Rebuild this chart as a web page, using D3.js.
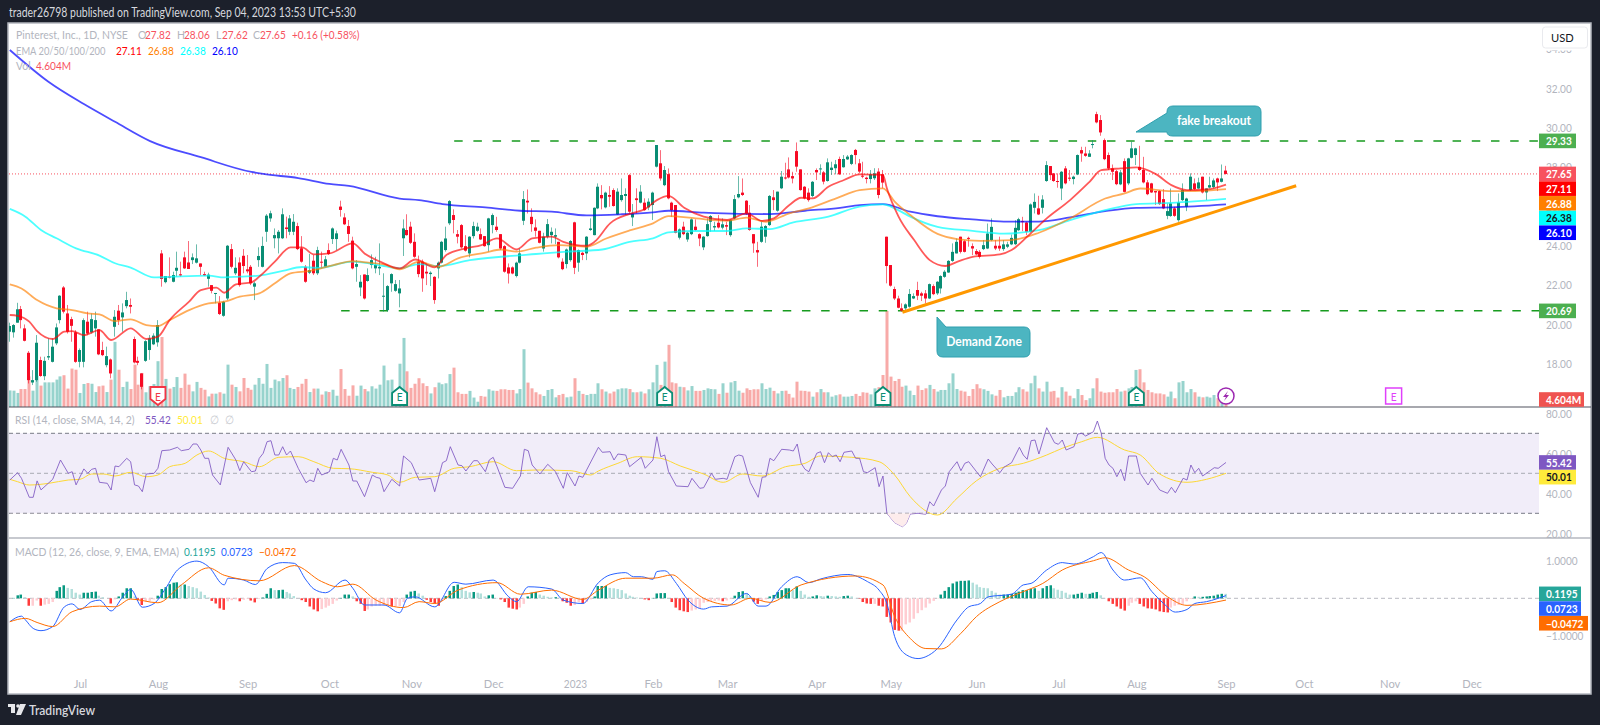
<!DOCTYPE html>
<html>
<head>
<meta charset="utf-8">
<title>Pinterest 1D</title>
<script src="https://cdn.jsdelivr.net/npm/d3@7"></script>
<style>
html, body { margin: 0; padding: 0; background: #1c202b; overflow: hidden; }
svg { display: block; }
text { font-family: "Lato", "Roboto", sans-serif; }
</style>
</head>
<body>
<svg id="chart" width="1600" height="725"></svg>
<script>
// Candles, one row per trading day: open, high, low, close
const ohlc = [
[19.63,20.09,19.12,19.92],[19.60,20.02,19.33,19.97],[20.09,21.10,20.09,20.77],[20.78,20.94,19.80,20.22],[19.80,20.00,19.14,19.17],
[18.56,18.65,17.00,17.17],[17.05,17.68,16.92,17.17],[17.17,19.46,17.09,19.07],[18.19,18.36,17.34,17.38],[17.37,18.36,17.17,18.15],
[18.32,19.29,18.19,18.39],[18.10,19.29,18.07,18.87],[19.04,20.05,18.95,19.85],[20.22,21.49,20.05,21.46],[21.88,21.95,20.56,20.65],
[20.56,20.99,19.54,19.63],[20.27,20.39,19.12,19.93],[19.60,19.71,18.05,18.10],[18.10,18.78,17.82,18.70],[18.10,20.31,17.82,20.22],
[20.14,20.65,19.46,19.54],[19.60,20.56,19.54,20.27],[19.80,20.65,19.38,20.22],[19.75,19.75,18.44,18.48],[18.70,19.12,18.39,18.44],
[17.93,18.87,17.82,18.39],[18.22,18.27,17.26,17.51],[19.88,20.73,19.38,20.39],[20.70,20.99,19.97,20.22],[20.36,21.07,19.63,20.61],
[20.93,21.66,20.82,21.24],[20.99,21.32,20.56,20.90],[19.26,19.38,18.02,18.07],[18.15,18.36,17.93,18.05],[17.51,17.51,16.70,16.83],
[18.15,19.20,18.10,19.15],[18.70,19.46,18.20,19.29],[18.99,19.55,18.95,19.43],[19.09,20.22,18.87,19.97],[23.61,23.78,21.92,22.31],
[22.15,22.46,22.09,22.46],[22.43,23.41,22.34,22.38],[22.17,22.68,22.14,22.51],[22.73,23.70,22.43,22.88],[22.55,23.19,22.43,22.49],
[23.41,23.70,22.82,22.85],[23.15,24.24,22.82,22.82],[23.27,23.61,23.07,23.41],[23.14,24.07,23.10,23.36],[23.10,23.10,22.51,22.93],
[22.56,22.68,22.46,22.49],[22.32,22.63,21.92,22.53],[22.00,22.00,21.58,21.71],[21.57,21.60,21.07,21.60],[21.10,21.44,20.48,20.53],
[20.44,21.20,20.39,21.15],[21.32,24.04,21.24,24.00],[23.83,24.09,22.85,22.93],[22.60,23.41,22.51,22.88],[23.15,23.41,21.92,22.00],
[23.49,23.83,22.60,22.97],[22.80,23.53,22.60,22.70],[22.93,23.02,22.00,22.09],[21.92,22.17,21.24,22.09],[23.27,23.92,22.93,23.48],
[22.93,24.46,22.90,23.99],[24.71,25.61,24.20,25.53],[25.39,25.78,25.22,25.65],[24.38,24.88,23.87,24.54],[24.38,24.80,23.61,24.71],
[24.38,25.90,24.34,25.60],[24.93,25.48,24.38,24.85],[24.71,25.56,24.54,25.39],[24.71,25.61,24.54,25.22],[25.00,25.17,23.78,23.83],
[23.87,24.49,23.14,23.19],[22.93,23.02,22.12,22.17],[22.63,23.58,22.56,22.76],[23.24,23.53,22.51,22.60],[22.60,23.95,22.51,23.78],
[23.19,23.70,22.85,23.16],[22.93,23.48,22.90,23.31],[23.78,24.12,23.53,23.58],[24.34,24.93,24.09,24.88],[24.34,24.77,23.78,24.63],
[25.99,26.29,25.48,25.82],[25.44,25.65,25.05,25.09],[25.00,25.31,24.20,24.60],[24.26,24.46,22.80,22.85],[22.93,23.27,22.17,23.07],
[21.88,22.51,21.44,22.17],[22.54,22.54,21.27,21.32],[22.21,22.85,22.17,22.51],[23.02,23.56,22.85,23.27],[22.85,23.44,22.60,23.02],
[22.85,24.12,22.51,22.93],[21.44,22.60,20.65,21.46],[20.73,22.00,20.65,21.95],[22.09,22.60,21.66,22.56],[21.71,22.26,21.66,22.05],
[21.58,22.26,20.87,21.83],[24.38,25.34,23.48,24.88],[24.80,25.60,24.51,24.54],[24.97,25.22,24.09,24.15],[24.20,24.63,23.39,23.44],
[23.19,23.50,22.40,22.56],[23.19,23.30,21.66,22.34],[22.68,23.10,22.00,22.59],[22.56,22.70,21.95,22.63],[22.42,22.45,21.05,21.24],
[22.85,23.20,22.34,23.14],[23.14,24.25,23.10,24.20],[23.78,24.97,23.70,24.37],[25.14,26.32,25.05,26.27],[25.56,25.85,24.63,25.31],
[24.59,24.80,24.12,24.46],[25.05,25.10,23.86,23.92],[23.98,24.54,23.70,23.75],[23.61,24.49,23.41,24.46],[24.49,25.22,24.37,25.00],
[24.76,25.17,24.71,24.97],[24.59,24.88,24.29,24.32],[24.49,24.49,23.95,23.98],[24.03,25.42,23.70,25.39],[25.05,25.64,24.63,25.56],
[24.97,25.47,24.71,24.80],[24.59,24.59,23.78,23.86],[23.98,24.03,22.63,22.68],[22.90,23.10,22.08,22.59],[22.90,22.95,22.55,22.59],
[22.46,23.19,22.39,23.14],[23.14,23.86,23.10,23.61],[25.27,26.78,25.05,26.37],[26.29,26.86,25.64,26.20],[25.47,25.90,24.71,25.10],
[24.93,25.34,24.46,24.76],[24.76,24.76,24.12,24.15],[23.86,24.66,23.70,24.46],[24.46,25.36,24.37,25.10],[24.54,24.93,24.12,24.71],
[24.46,24.88,24.08,24.54],[24.20,24.20,23.36,23.41],[23.19,23.36,22.76,22.81],[23.07,23.86,22.85,23.81],[23.27,24.29,23.19,24.24],
[25.19,25.22,22.56,22.88],[23.14,23.81,22.68,23.78],[23.64,23.70,23.27,23.53],[23.61,24.49,23.27,24.46],[24.80,25.39,24.76,24.88],
[24.54,25.95,24.53,25.93],[25.90,27.17,25.86,27.00],[26.58,27.08,25.85,26.41],[25.95,26.75,25.90,26.70],[26.58,27.03,25.98,26.49],
[26.83,26.92,25.99,26.02],[25.59,26.92,25.56,26.75],[26.32,27.42,26.24,26.58],[26.53,26.92,25.56,26.63],[27.59,27.64,25.64,25.73],
[25.44,26.12,25.00,25.64],[26.41,26.92,25.64,26.32],[26.19,27.08,26.15,26.75],[26.19,26.41,25.78,25.81],[25.95,26.41,25.81,26.24],
[26.07,26.75,25.31,26.70],[28.02,29.12,27.98,29.12],[28.19,28.86,27.31,27.42],[27.08,28.05,27.03,27.85],[27.64,27.93,26.36,26.41],
[26.19,26.24,25.47,25.81],[26.07,26.07,24.63,24.66],[24.41,24.88,24.32,24.83],[24.97,25.22,24.54,24.59],[24.32,24.71,24.20,24.66],
[24.59,25.39,24.54,25.34],[24.97,25.34,24.76,24.80],[24.59,24.63,23.98,24.37],[23.92,24.49,23.78,24.46],[24.49,25.39,24.46,25.10],
[25.22,25.56,24.71,25.51],[24.93,25.22,24.76,25.00],[25.17,25.56,24.88,24.93],[24.92,25.39,24.83,25.09],[25.05,25.22,24.54,24.97],
[24.54,25.34,24.46,25.31],[25.39,26.58,25.34,26.37],[26.46,27.54,26.41,26.63],[26.70,27.42,26.53,26.58],[26.29,26.32,25.56,25.64],
[25.68,26.07,24.76,24.80],[24.59,24.59,23.64,24.12],[23.78,24.20,22.93,23.66],[24.20,25.22,24.15,24.97],[24.46,25.05,24.15,25.00],
[25.05,26.58,25.00,26.53],[26.46,26.83,25.81,26.32],[25.78,26.75,25.73,26.75],[26.92,27.80,26.88,27.51],[27.47,28.22,27.37,27.42],
[27.88,28.49,27.42,27.47],[27.54,27.76,27.17,27.42],[28.81,29.25,27.76,28.02],[27.88,27.88,26.80,26.83],[27.00,27.03,26.36,26.41],
[26.70,26.92,26.24,26.32],[26.53,27.29,26.46,27.25],[27.85,27.93,27.34,27.73],[27.88,28.14,27.60,27.93],[27.73,27.80,27.12,27.26],
[27.29,28.44,27.26,28.24],[27.85,28.27,27.60,27.97],[27.94,28.36,27.63,28.14],[28.41,28.53,27.60,27.63],[27.99,28.61,27.97,28.41],
[28.39,28.61,28.36,28.53],[28.16,28.65,28.10,28.61],[28.87,28.92,28.14,28.61],[28.19,28.41,27.68,27.77],[27.56,28.27,27.43,27.51],
[27.46,27.51,27.17,27.39],[27.39,27.85,27.17,27.63],[27.43,27.94,27.34,27.68],[27.77,27.94,26.41,26.58],[27.63,27.85,26.92,27.21],
[24.46,24.46,22.09,22.97],[23.02,23.02,21.92,21.97],[21.80,21.92,21.24,21.32],[21.32,21.46,20.82,20.85],[20.82,21.07,20.65,20.70],
[20.82,21.07,20.73,21.02],[20.90,21.80,20.85,21.55],[21.32,21.58,21.29,21.44],[21.75,22.17,21.24,21.46],[21.58,21.66,21.19,21.46],
[21.58,21.75,21.07,21.32],[21.32,22.08,21.29,22.05],[21.95,22.04,21.49,21.54],[21.58,22.20,21.50,22.17],[21.83,22.50,21.57,22.46],
[22.42,22.76,22.37,22.68],[22.64,23.27,22.62,23.23],[23.23,24.12,23.18,23.69],[23.61,24.37,23.61,24.20],[24.46,24.46,23.61,23.69],
[24.23,24.29,23.66,23.69],[24.40,24.46,23.95,24.37],[23.98,24.12,23.52,23.86],[23.73,23.83,23.52,23.56],[23.69,23.78,23.35,23.44],
[23.83,24.29,23.78,24.03],[23.86,25.13,23.83,24.62],[24.29,25.39,24.23,24.96],[24.00,24.29,23.78,23.86],[24.00,24.46,23.74,23.86],
[23.83,24.29,23.74,24.07],[23.95,24.20,23.88,24.07],[24.07,24.57,24.03,24.40],[24.08,25.30,24.03,24.91],[24.79,25.42,24.74,25.35],
[25.25,25.47,24.74,25.22],[25.18,25.22,24.54,24.71],[24.71,26.15,24.68,26.10],[25.93,26.66,25.64,26.23],[25.90,26.54,25.56,25.59],
[25.93,26.57,25.64,26.35],[27.29,28.30,27.25,28.10],[28.05,28.05,27.34,27.59],[27.68,27.68,27.25,27.29],[27.29,27.68,26.95,27.25],
[26.91,27.80,26.32,27.76],[27.93,28.05,27.12,27.17],[27.46,27.85,27.29,27.42],[27.39,27.56,27.12,27.51],[27.62,28.64,27.59,28.61],
[28.86,29.03,28.27,28.69],[28.69,29.03,28.52,28.57],[28.52,28.86,28.52,28.69],[29.15,29.37,28.95,29.17],[30.69,30.81,30.22,30.27],
[30.39,30.64,29.59,29.76],[29.37,29.45,28.35,28.40],[28.61,28.74,27.85,27.93],[27.93,28.13,27.34,27.76],[27.79,27.85,27.08,27.13],
[27.12,27.85,27.08,27.73],[28.30,28.44,26.71,26.74],[27.17,28.47,27.08,28.44],[28.47,29.29,28.44,28.95],[28.61,28.98,28.10,28.95],
[28.01,29.08,27.80,27.85],[27.85,28.52,27.17,27.22],[27.22,27.34,26.57,26.62],[27.17,27.20,26.68,26.71],[26.78,26.78,26.07,26.71],
[26.78,26.83,26.07,26.12],[26.37,26.88,25.86,25.90],[25.52,26.15,25.35,25.76],[25.51,26.91,25.47,26.15],[25.90,25.98,25.47,25.52],
[25.30,26.66,25.22,26.20],[26.32,27.17,26.27,26.83],[25.98,26.44,25.76,26.40],[26.83,27.68,26.78,27.51],[27.17,27.42,26.83,26.88],
[26.91,27.46,26.88,27.22],[27.51,27.51,26.66,26.71],[26.71,26.91,26.32,26.91],[26.96,27.51,26.91,27.08],[26.98,27.42,26.91,27.32],
[27.42,27.46,26.78,27.22],[27.25,28.13,27.22,27.42],[27.82,28.06,27.62,27.65]
];

// Volume in millions, one per trading day
const volume = [
7.2,7.1,6.1,7.8,7.8,13.3,7.1,13.6,9.3,10.7,10.7,10.7,11.9,13.3,13.8,8.0,16.7,16.2,6.1,10.0,
10.4,10.1,6.5,9.0,9.3,6.5,11.9,28.3,16.2,8.7,11.0,7.8,18.4,9.7,14.8,6.4,9.0,10.0,19.9,30.4,
12.2,8.0,8.7,13.0,8.3,14.5,9.7,6.8,10.9,8.3,7.5,4.6,5.8,5.8,6.4,5.8,18.4,9.7,8.7,6.8,
12.6,8.3,7.5,9.7,12.6,10.1,18.7,8.3,11.9,11.2,12.6,13.8,8.3,7.8,8.7,10.1,12.2,6.5,8.0,8.0,
5.4,6.8,6.5,7.5,4.9,16.5,7.8,4.9,9.4,4.9,9.3,7.8,6.8,9.0,8.0,9.7,18.0,11.6,11.9,7.5,
18.8,30.0,15.5,8.3,10.1,
12.5,10.3,9.1,5.9,8.6,10.6,9.9,10.3,14.3,17.1,6.4,5.7,5.7,7.0,4.1,2.3,4.8,4.5,7.7,7.1,
7.0,7.7,7.7,7.4,7.4,5.9,7.8,25.1,10.6,8.1,6.4,5.5,4.8,7.4,7.8,4.2,5.2,5.7,4.2,4.5,
12.5,7.0,5.7,5.2,5.7,5.7,10.3,7.7,6.7,5.9,6.7,7.7,8.1,8.1,
7.8,6.4,6.4,6.7,5.9,7.7,10.7,18.3,9.6,19.7,27.0,10.7,10.3,8.8,8.6,7.2,9.1,7.0,7.0,7.4,
8.1,7.8,7.7,5.7,10.3,6.2,10.7,11.3,7.1,6.2,8.1,7.4,7.7,7.7,10.3,7.8,8.4,7.0,5.9,7.0,
7.1,5.7,4.1,11.0,7.1,7.0,6.7,4.5,6.4,7.8,6.4,6.4,4.5,5.1,5.5,4.5,4.5,4.8,5.7,4.8,
6.4,6.2,5.5,8.1,8.6,13.9,41.7,13.2,11.3,12.2,8.8,9.3,7.1,5.2,9.3,7.4,8.1,9.6,7.8,6.7,
7.4,7.4,10.3,14.6,7.8,7.1,6.7,4.8,7.8,9.9,8.1,7.7,7.0,5.5,4.9,7.4,4.2,4.8,4.8,6.4,
8.6,7.7,6.7,10.3,13.6,8.1,6.7,11.0,6.7,7.0,4.1,8.6,6.7,4.9,3.8,7.8,5.2,3.0,3.8,8.1,
12.5,6.7,6.2,6.4,6.4,7.8,6.7,7.1,8.1,8.7,16.1,16.4,10.7,7.4,6.4,5.9,5.9,5.5,4.5,6.7,
3.8,10.7,11.3,6.4,7.8,6.4,4.5,4.2,4.5,4.1,5.2,3.8,4.5,4.604
];

// Moving averages, read at [bar, price]
const ema20 = [[0,20.48],[2,20.44],[5,20.14],[7,19.66],[11,19.26],[14,19.63],[16,19.66],[19,19.46],[23,19.71],[26,19.21],[31,19.8],[35,19.26],[38,19.38],[41,20.22],[46,21.16],[49,21.75],[53,21.87],[55,21.61],[58,22.04],[62,22.14],[64,22.43],[68,23.19],[72,23.92],[75,23.92],[78,23.56],[82,23.61],[88,24.12],[91,23.61],[95,23.19],[100,22.85],[104,23.3],[109,22.9],[112,23.53],[117,23.87],[121,24.03],[125,24.37],[130,23.81],[134,24.37],[139,24.46],[142,24.2],[148,24.0],[150,24.2],[154,25.14],[159,25.62],[163,25.87],[166,26.32],[169,26.53],[173,25.93],[178,25.48],[184,25.31],[189,25.65],[193,25.26],[196,25.39],[200,26.07],[203,26.44],[206,26.41],[210,27.0],[214,27.34],[218,27.63],[224,27.6],[225,26.92],[228,25.48],[232,24.29],[236,23.27],[240,22.97],[243,23.18],[247,23.44],[254,23.56],[257,23.78],[261,24.46],[266,25.39],[272,26.32],[277,27.25],[280,27.84],[285,27.93],[289,27.98],[294,27.64],[298,27.08],[302,26.83],[307,26.86],[312,27.11]];
const ema50 = [[0,22.04],[3,21.83],[7,21.24],[12,20.82],[16,20.73],[20,20.56],[23,20.51],[27,20.17],[31,20.26],[35,19.97],[38,19.92],[41,20.22],[46,20.73],[51,21.07],[55,21.16],[59,21.41],[64,21.58],[68,22.09],[72,22.6],[77,22.72],[83,23.02],[88,23.22],[92,23.14],[96,23.05],[100,22.8],[105,23.19],[110,22.93],[115,23.36],[122,23.65],[126,23.81],[130,23.7],[135,23.9],[141,24.03],[148,23.95],[153,24.37],[159,24.78],[165,25.14],[169,25.51],[176,25.39],[184,25.27],[189,25.43],[194,25.22],[200,25.65],[205,25.9],[212,26.41],[218,26.83],[224,26.92],[227,26.24],[231,25.56],[238,24.6],[243,24.34],[249,24.25],[257,24.29],[264,24.66],[272,25.39],[281,26.4],[286,26.66],[290,26.91],[298,26.78],[304,26.78],[312,26.88]];
const ema100 = [[0,25.87],[4,25.48],[8,24.8],[12,24.38],[17,23.87],[23,23.5],[27,23.11],[31,22.89],[37,22.39],[42,22.43],[51,22.48],[55,22.39],[59,22.43],[64,22.48],[70,22.72],[75,22.92],[79,22.87],[88,23.19],[96,22.97],[100,22.85],[105,23.07],[110,22.97],[118,23.27],[126,23.44],[135,23.58],[143,23.7],[152,23.81],[159,24.2],[165,24.38],[169,24.68],[176,24.75],[184,24.75],[189,24.88],[195,24.85],[201,25.19],[210,25.48],[218,25.99],[224,26.1],[227,25.9],[231,25.48],[238,24.96],[247,24.76],[255,24.62],[264,24.79],[272,25.3],[281,25.81],[289,26.12],[298,26.18],[312,26.38]];
const ema200 = [[0,33.95],[10,32.32],[19,31.2],[27,30.3],[36,29.32],[49,28.5],[62,27.75],[65,27.65],[74,27.44],[82,27.14],[87,27.04],[100,26.4],[105,26.32],[111,26.12],[122,25.95],[131,25.78],[139,25.73],[148,25.54],[157,25.6],[165,25.7],[169,25.78],[178,25.68],[187,25.62],[195,25.61],[204,25.78],[213,25.93],[218,26.07],[224,26.12],[231,25.73],[238,25.5],[247,25.34],[255,25.23],[264,25.23],[272,25.44],[281,25.76],[289,25.93],[298,25.95],[312,26.10]];

// RSI and its moving average, read at [bar, value]
const rsi = [[0,46.65],[2,50.3],[3,47.5],[5,38],[6,38],[7,46.2],[8,41.7],[11,47],[13,56.65],[15,50],[16,50.8],[17,44.2],[19,52.2],[20,50],[21,52],[22,52.5],[23,45.5],[25,45],[26,41.65],[27,53.65],[28,53.3],[30,57.5],[31,55.8],[32,44.2],[33,43.65],[34,40.8],[35,49.65],[37,50],[38,52.5],[39,61.3],[41,61.65],[43,63],[44,61.3],[46,62],[47,64.65],[48,64.65],[49,61.65],[50,57.5],[51,57.5],[52,49.15],[54,44.2],[56,63],[58,56.65],[59,51.3],[60,55.8],[62,50.8],[63,51.15],[64,57.5],[65,60],[66,65.8],[67,66.3],[68,59.15],[69,59.15],[70,63.3],[71,59.15],[72,61.15],[74,52.5],[76,45.3],[77,46.65],[78,45.8],[79,52.5],[80,49.15],[82,50.8],[83,57.5],[84,56.65],[85,62],[87,54.15],[88,46.15],[89,46.15],[91,38.3],[93,49.15],[94,48],[95,47.5],[96,40.8],[98,47],[100,43.65],[101,58.65],[103,55.3],[105,46.65],[108,47.5],[109,40.8],[111,55.3],[112,56.3],[113,63.3],[115,54.15],[116,53.8],[117,51.15],[119,56.3],[120,56.3],[122,50.8],[123,56.65],[124,58],[125,53.3],[127,43],[129,42.5],[131,48.65],[132,62],[133,61.3],[134,54.15],[136,49.65],[138,54.5],[140,50.8],[142,42.5],[143,50.3],[145,43.65],[146,48.65],[147,48],[151,63],[152,60.5],[154,60.8],[155,56.65],[156,59.65],[158,59.15],[159,53.3],[162,58],[163,52.5],[165,56.65],[166,68.3],[167,58.3],[168,59.15],[169,50.8],[171,43.65],[174,43.3],[175,47.5],[177,42.5],[178,42.8],[180,50],[181,47],[183,47.5],[184,47],[186,58.3],[187,59.15],[188,58.65],[190,45.3],[192,38],[193,48],[194,48.3],[195,57.5],[196,56.3],[198,62],[200,61.65],[201,61.15],[202,64.65],[203,55],[204,52],[205,50.8],[207,60],[208,60.8],[209,55.3],[210,60.3],[211,58.3],[212,59.15],[213,55.8],[214,60.5],[216,61.15],[217,57.5],[218,57.5],[219,50.8],[220,50.3],[222,52.8],[223,43.3],[224,48.65],[225,30],[227,25.3],[229,23.3],[230,25],[231,29.65],[233,30],[235,29.5],[236,35.8],[237,33.65],[239,41.65],[240,43.65],[241,50.8],[243,55.8],[244,51.3],[245,55],[246,55.8],[248,50.8],[249,48.3],[251,57.15],[252,54.65],[254,50.3],[255,53],[257,55.3],[259,63],[260,59.15],[261,57],[262,66.3],[263,66.65],[264,59.65],[266,72.8],[268,65.3],[269,64.5],[270,66.65],[271,61.65],[273,63.3],[274,69.65],[275,70],[276,68.65],[278,70.8],[279,76.15],[280,70],[281,57.5],[282,54.15],[283,52.5],[284,48.3],[285,52],[286,46.3],[287,58.65],[289,58.65],[290,50],[292,44.15],[293,47.5],[295,41.65],[297,40],[298,43],[299,40.3],[301,47.5],[302,46.65],[303,54.15],[304,50.3],[305,52.5],[306,48.65],[309,52.8],[310,52.5],[312,55.42]];
const rsiMa = [[0,46.98],[2,45.8],[5,44.15],[10,44.98],[15,46.65],[18,46.98],[21,49.65],[24,49.65],[27,48.65],[31,50.5],[35,48.3],[38,49.15],[41,53.3],[45,55],[48,59.15],[51,61.15],[55,57.5],[60,55.8],[64,53.3],[69,58],[74,58.3],[78,55.8],[83,52.5],[87,52.3],[93,50.5],[97,49.15],[100,45.5],[104,48],[109,48.3],[114,52.5],[118,53.3],[124,55.8],[130,51.3],[135,51.65],[144,51.3],[149,49.15],[151,51.15],[156,55],[161,58.3],[167,57.5],[172,53.65],[178,49.65],[183,45.5],[188,49.65],[193,48.65],[199,53.3],[204,55],[208,58.65],[216,58],[223,55.8],[227,49.15],[231,38.3],[238,29.15],[243,37.5],[248,46.3],[254,52.5],[260,55],[266,59.15],[270,62.5],[275,65.8],[279,68],[286,61.65],[290,59.15],[295,49.65],[302,45.5],[307,47],[312,50.01]];

// MACD line and signal, read at [bar, value]
const macdLine = [[0,-0.63],[3,-0.48],[4,-0.58],[6,-0.81],[8,-0.87],[11,-0.76],[14,-0.23],[16,-0.15],[18,-0.30],[21,-0.09],[23,-0.05],[26,-0.34],[29,0.04],[31,0.24],[34,-0.24],[37,-0.14],[40,0.27],[43,0.76],[48,1.0],[51,0.85],[55,0.36],[56,0.54],[60,0.49],[63,0.37],[66,0.80],[70,0.96],[73,0.94],[76,0.49],[78,0.25],[81,0.15],[86,0.49],[88,0.27],[91,-0.18],[96,-0.18],[100,-0.39],[102,0.0],[104,0.04],[109,-0.23],[114,0.43],[117,0.38],[124,0.49],[128,0.04],[130,-0.09],[133,0.31],[139,0.25],[142,-0.05],[147,-0.14],[151,0.42],[154,0.63],[158,0.69],[160,0.58],[162,0.58],[165,0.51],[166,0.72],[168,0.74],[171,0.40],[174,-0.05],[178,-0.29],[180,-0.23],[184,-0.21],[189,0.13],[192,-0.21],[194,-0.21],[198,0.31],[202,0.58],[205,0.42],[208,0.52],[215,0.64],[220,0.45],[223,0.22],[225,-0.14],[227,-1.03],[230,-1.52],[233,-1.62],[235,-1.57],[238,-1.35],[243,-0.58],[246,-0.23],[249,-0.14],[251,0.04],[257,0.11],[260,0.36],[262,0.40],[266,0.76],[270,0.96],[273,0.92],[278,1.12],[280,1.23],[283,0.76],[286,0.49],[290,0.55],[293,0.18],[296,-0.14],[299,-0.37],[302,-0.30],[304,-0.14],[307,-0.09],[312,0.0723]];
const macdSignal = [[0,-0.63],[4,-0.54],[7,-0.65],[11,-0.76],[16,-0.36],[23,-0.21],[27,-0.23],[31,-0.02],[38,-0.12],[44,0.36],[51,0.82],[55,0.62],[64,0.47],[73,0.88],[80,0.45],[84,0.31],[88,0.38],[94,-0.05],[101,-0.25],[105,-0.09],[109,-0.14],[115,0.22],[125,0.42],[131,0.11],[139,0.22],[147,-0.03],[151,0.22],[158,0.54],[165,0.54],[170,0.63],[173,0.40],[178,0.0],[185,-0.18],[190,0.0],[195,-0.11],[203,0.36],[217,0.60],[224,0.36],[227,-0.49],[231,-1.08],[235,-1.35],[239,-1.36],[244,-0.94],[248,-0.49],[254,-0.09],[260,0.18],[265,0.40],[270,0.76],[278,1.01],[281,1.09],[287,0.76],[291,0.58],[297,0.04],[302,-0.19],[312,-0.0472]];
const macdHist = [
0,0.01,0.08,0.1,0.03,-0.2,-0.2,-0.06,-0.2,-0.17,-0.15,-0.1,0.2,0.3,0.35,0.28,0.25,0.15,0.1,0.15,
0.15,0.17,0.18,0.07,0.03,0,-0.14,-0.03,0.05,0.15,0.27,0.27,0.05,-0.05,-0.18,-0.08,-0.07,-0.03,0.07,0.25,
0.3,0.38,0.42,0.43,0.37,0.37,0.33,0.3,0.27,0.18,0.09,0.02,-0.07,-0.14,-0.27,-0.31,-0.08,-0.05,-0.03,-0.08,
-0.04,-0.02,-0.06,-0.11,-0.02,0.02,0.12,0.27,0.22,0.22,0.23,0.17,0.13,0.06,0,-0.05,-0.1,-0.22,-0.3,-0.35,
-0.29,-0.25,-0.2,-0.15,-0.06,0.01,0.1,0.1,0.05,-0.08,-0.15,-0.34,-0.3,-0.22,-0.2,-0.2,-0.2,-0.2,-0.22,-0.22,
-0.21,-0.1,0.1,0.18,0.2,0.13,0.07,-0.04,-0.1,-0.14,-0.2,-0.05,0.06,0.2,0.33,0.37,0.3,0.2,0.16,0.17,
0.15,0.13,0.05,0.08,0.1,0.01,-0.03,-0.1,-0.25,-0.28,-0.3,-0.25,-0.15,0.05,0.15,0.17,0.1,0.07,0.04,0.02,
0.03,0.01,-0.08,-0.12,-0.2,-0.18,-0.1,-0.14,-0.1,-0.03,0.05,0.33,0.33,0.33,0.28,0.27,0.25,0.22,0.13,0.07,
0.04,0.02,0.01,-0.03,-0.05,0.01,0.13,0.14,0.14,0.01,-0.1,-0.25,-0.32,-0.35,-0.37,-0.33,-0.3,-0.28,-0.12,-0.1,
-0.08,-0.07,-0.06,-0.08,-0.06,-0.02,0.07,0.17,0.19,0.13,0.05,-0.09,-0.15,-0.07,-0.03,0.05,0.09,0.17,0.22,0.27,
0.27,0.22,0.32,0.2,0.1,0.04,0.05,0.08,0.06,0.05,0.07,0.06,0.05,0.04,0.06,0.07,0.05,0.01,-0.01,-0.1,
-0.14,-0.15,-0.15,-0.2,-0.22,-0.5,-0.65,-0.85,-0.87,-0.87,-0.7,-0.65,-0.55,-0.4,-0.32,-0.25,-0.14,-0.07,-0.01,0.1,
0.2,0.3,0.4,0.45,0.47,0.47,0.48,0.42,0.37,0.3,0.28,0.27,0.2,0.15,0.1,0.1,0.1,0.12,0.15,0.18,
0.22,0.22,0.25,0.27,0.2,0.27,0.33,0.35,0.27,0.23,0.2,0.15,0.1,0.1,0.12,0.15,0.12,0.12,0.15,0.17,
0.08,0.01,-0.08,-0.15,-0.22,-0.28,-0.33,-0.2,-0.12,-0.08,-0.15,-0.22,-0.27,-0.28,-0.3,-0.35,-0.37,-0.38,-0.25,-0.2,
-0.18,-0.15,-0.08,-0.02,0.05,0.04,0.04,0.05,0.06,0.07,0.1,0.12,0.1195
];

// Axis ticks
const monthLabels = ['Jul','Aug','Sep','Oct','Nov','Dec','2023','Feb','Mar','Apr','May','Jun','Jul','Aug','Sep','Oct','Nov','Dec'];
const monthBars = [18,38,61,82,103,124,145,165,184,207,226,248,269,289,312,332,354,375];
const priceTicks = [18,20,22,24,26,28,30,32,34];
const rsiTicks = [20,40,60,80];
const macdTicks = [-1,1];

// Drawn levels and earnings flags
const supportLevel = 20.69;
const resistLevel = 29.33;
const lastClose = 27.65;
const pastEarnings = [38,100,168,224,289];
const nextEarnings = 355;
const trendBars = [229,330];
const trendPrices = [20.62,27.05];

// Axis price tags, each stack is pushed down so tags do not overlap
const mainTags = [
    { v: 27.65, t: '27.65', fill: '#f7525f', color: '#fff' },
    { v: 27.11, t: '27.11', fill: '#ff0000', color: '#fff' },
    { v: 26.88, t: '26.88', fill: '#ff7f00', color: '#fff' },
    { v: 26.38, t: '26.38', fill: '#00ffff', color: '#131722' },
    { v: 26.10, t: '26.10', fill: '#0000ff', color: '#fff' }
];
const rsiTags = [
    { v: 55.42, t: '55.42', fill: '#7e57c2', color: '#fff' },
    { v: 50.01, t: '50.01', fill: '#ffeb3b', color: '#131722' }
];
const macdTags = [
    { v: 0.1195, t: '0.1195', fill: '#26a69a', color: '#fff', w: 42 },
    { v: 0.0723, t: '0.0723', fill: '#2962ff', color: '#fff', w: 42 },
    { v: -0.0472, t: '\u22120.0472', fill: '#ff6d00', color: '#fff', w: 49 }
];

// Layout
const plotLeft = 9, plotRight = 1539, frameRight = 1591;
const mainTop = 24, mainBottom = 407, rsiBottom = 538, frameBottom = 694;
const greyText = '#b2b5be';
const upColor = '#098d74', downColor = '#f70a24';

const svg = d3.select('#chart');

// White chart area
svg.append('rect').attr('x', plotLeft - 1).attr('y', mainTop - 1)
    .attr('width', frameRight - plotLeft + 1).attr('height', frameBottom - mainTop + 1)
    .attr('fill', '#fff').attr('stroke', '#b4b7bf').attr('stroke-width', 1.5);

// Scales
const x = d3.scaleLinear().domain([0, 312]).range([9.8, 1226]);
const y = d3.scaleLinear().domain([20, 30]).range([324.45, 127.7]);
const yVol = d3.scaleLinear().domain([0, 41.7]).range([mainBottom, 311]);
const yRsi = d3.scaleLinear().domain([30, 70]).range([513.3, 433.3]);
const yMacd = d3.scaleLinear().domain([-1, 1]).range([635.5, 561.1]);

const defs = svg.append('defs');
function addClip(id, top, bottom) {
    defs.append('clipPath').attr('id', id).append('rect')
        .attr('x', plotLeft).attr('y', top).attr('width', plotRight - plotLeft).attr('height', bottom - top);
}
addClip('clip-main', mainTop, mainBottom);
addClip('clip-rsi', mainBottom + 1, rsiBottom);
addClip('clip-macd', rsiBottom + 1, frameBottom);
addClip('clip-low', yRsi(30), rsiBottom);

const main = svg.append('g').attr('clip-path', 'url(#clip-main)');

// Volume bars
main.append('g').selectAll('rect').data(volume).join('rect')
    .attr('x', (d, i) => Math.round(x(i)) - 1.5)
    .attr('width', 3)
    .attr('y', d => yVol(d))
    .attr('height', d => mainBottom - yVol(d))
    .attr('fill', (d, i) => ohlc[i][3] >= ohlc[i][0] ? '#97d3cd' : '#f8aaa8');

// Horizontal levels
function levelLine(level, fromBar) {
    main.append('line')
        .attr('x1', x(fromBar)).attr('x2', plotRight)
        .attr('y1', y(level)).attr('y2', y(level))
        .attr('stroke', '#179b1f').attr('stroke-width', 1.5)
        .attr('stroke-dasharray', '8.5,10.7');
}
levelLine(resistLevel, 114);
levelLine(supportLevel, 85);

main.append('line')
    .attr('x1', plotLeft).attr('x2', plotRight)
    .attr('y1', y(lastClose)).attr('y2', y(lastClose))
    .attr('stroke', '#f7525f').attr('stroke-dasharray', '1,2');

// Candles
const candle = main.append('g').selectAll('g').data(ohlc).join('g');
candle.append('line')
    .attr('x1', (d, i) => Math.round(x(i)) - 0.5)
    .attr('x2', (d, i) => Math.round(x(i)) - 0.5)
    .attr('y1', d => y(d[1]))
    .attr('y2', d => y(d[2]))
    .attr('stroke', d => d[3] >= d[0] ? upColor : downColor)
    .attr('stroke-opacity', 0.6);
candle.append('rect')
    .attr('x', (d, i) => Math.round(x(i)) - 2)
    .attr('width', 3)
    .attr('y', d => y(Math.max(d[0], d[3])))
    .attr('height', d => Math.max(1, Math.abs(y(d[0]) - y(d[3]))))
    .attr('fill', d => d[3] >= d[0] ? upColor : downColor);

// EMA lines
const smooth = d3.line().x(d => x(d[0])).y(d => y(d[1])).curve(d3.curveMonotoneX);
[[ema200, '#0000ff', 0.7], [ema100, '#00ffff', 0.7], [ema50, '#ff7f00', 0.65], [ema20, '#ff0000', 0.65]].forEach(s => {
    main.append('path').attr('d', smooth(s[0]))
        .attr('fill', 'none').attr('stroke', s[1]).attr('stroke-opacity', s[2]).attr('stroke-width', 1.8);
});

// Trend line
main.append('line')
    .attr('x1', x(trendBars[0])).attr('y1', y(trendPrices[0]))
    .attr('x2', x(trendBars[1])).attr('y2', y(trendPrices[1]))
    .attr('stroke', '#ff9800').attr('stroke-width', 3);

// Earnings flags
function earningsFlag(bar, shape, stroke) {
    const g = svg.append('g').attr('transform', `translate(${x(bar)},396)`);
    g.append('path').attr('d', shape)
        .attr('fill', '#fff').attr('stroke', stroke).attr('stroke-width', 1.8);
    g.append('text').attr('text-anchor', 'middle').attr('y', 4.5)
        .attr('font-size', 11).attr('fill', stroke).text('E');
}
pastEarnings.forEach(b => {
    if (b === 38) earningsFlag(b, 'M-7.5,-9 H7.5 V3 L0,9 L-7.5,3 Z', '#f23645');
    else earningsFlag(b, 'M-7.5,-3 L0,-9 L7.5,-3 V9 H-7.5 Z', '#098d74');
});

const futureFlag = svg.append('g').attr('transform', `translate(${x(nextEarnings)},396)`);
futureFlag.append('rect').attr('x', -8).attr('y', -8).attr('width', 16).attr('height', 16)
    .attr('fill', '#fff').attr('stroke', '#e040fb').attr('stroke-width', 1.5);
futureFlag.append('text').attr('text-anchor', 'middle').attr('y', 4.5)
    .attr('font-size', 11).attr('fill', '#e040fb').text('E');

// Dividends/split bolt on the last bar
const bolt = svg.append('g').attr('transform', `translate(${x(312)},396)`);
bolt.append('circle').attr('r', 8).attr('fill', '#fff').attr('stroke', '#9c27b0').attr('stroke-width', 1.5);
bolt.append('path').attr('d', 'M2,-5 L-3,1 L0,1 L-2,5 L3,-1 L0,-1 Z').attr('fill', '#9c27b0');

// Callouts
function callout(path, textX, textY, label) {
    svg.append('path').attr('d', path).attr('fill', '#4cb5c1').attr('stroke', '#2f9fae');
    svg.append('text').attr('x', textX).attr('y', textY).attr('text-anchor', 'middle')
        .attr('fill', '#fff').attr('font-size', 13).attr('font-weight', 700).text(label);
}
callout('M1136,132 L1167,113 L1167,112 Q1167,106 1173,106 L1255,106 Q1261,106 1261,112 L1261,130 Q1261,136 1255,136 L1173,136 Q1167,136 1167,132 Z', 1214, 125.5, 'fake breakout');
callout('M937,317 L946,327 L1024,327 Q1030,327 1030,333 L1030,351 Q1030,357 1024,357 L943,357 Q937,357 937,351 Z', 984, 346.5, 'Demand Zone');

// RSI pane
svg.append('rect').attr('x', plotLeft).attr('width', plotRight - plotLeft)
    .attr('y', yRsi(70)).attr('height', yRsi(30) - yRsi(70)).attr('fill', '#f1edf9');
[70, 50, 30].forEach(v => {
    svg.append('line').attr('x1', plotLeft).attr('x2', plotRight)
        .attr('y1', yRsi(v)).attr('y2', yRsi(v))
        .attr('stroke', v === 50 ? '#a9abb3' : '#787b86')
        .attr('stroke-dasharray', '4,3');
});
const rsiPane = svg.append('g').attr('clip-path', 'url(#clip-rsi)');
const rsiArea = d3.area().x(d => x(d[0])).y0(d => yRsi(30)).y1(d => yRsi(d[1]));
svg.append('path').attr('d', rsiArea(rsi)).attr('fill', '#fdecec').attr('clip-path', 'url(#clip-low)');
const rsiPath = d3.line().x(d => x(d[0])).y(d => yRsi(d[1]));
const rsiSmooth = d3.line().x(d => x(d[0])).y(d => yRsi(d[1])).curve(d3.curveMonotoneX);
rsiPane.append('path').attr('d', rsiSmooth(rsiMa)).attr('fill', 'none').attr('stroke', '#fdd835').attr('stroke-width', 1);
rsiPane.append('path').attr('d', rsiPath(rsi)).attr('fill', 'none').attr('stroke', '#7e57c2').attr('stroke-width', 1).attr('stroke-opacity', 0.85);

// MACD pane
const macdPane = svg.append('g').attr('clip-path', 'url(#clip-macd)');
macdPane.append('line').attr('x1', plotLeft).attr('x2', plotRight)
    .attr('y1', yMacd(0)).attr('y2', yMacd(0))
    .attr('stroke', '#b8bac1').attr('stroke-dasharray', '4,3');
macdPane.append('g').selectAll('rect').data(macdHist).join('rect')
    .attr('x', (d, i) => Math.round(x(i)) - 1.5)
    .attr('width', 2.5)
    .attr('y', d => Math.min(yMacd(d), yMacd(0)))
    .attr('height', d => Math.abs(yMacd(d) - yMacd(0)))
    .attr('fill', (d, i) => {
        const rising = i === 0 || d >= macdHist[i - 1];
        if (d >= 0) return rising ? '#089981' : '#b2dfdb';
        return rising ? '#ffcdd2' : '#ff3b3b';
    });
const macdPath = d3.line().x(d => x(d[0])).y(d => yMacd(d[1])).curve(d3.curveMonotoneX);
macdPane.append('path').attr('d', macdPath(macdLine)).attr('fill', 'none').attr('stroke', '#2962ff').attr('stroke-width', 1);
macdPane.append('path').attr('d', macdPath(macdSignal)).attr('fill', 'none').attr('stroke', '#ff6d00').attr('stroke-width', 1);

// Pane separators
svg.append('line').attr('x1', plotLeft).attr('x2', frameRight).attr('y1', mainBottom).attr('y2', mainBottom)
    .attr('stroke', '#50535e').attr('stroke-width', 1.2);
svg.append('line').attr('x1', plotLeft).attr('x2', frameRight).attr('y1', rsiBottom).attr('y2', rsiBottom)
    .attr('stroke', '#b4b7bf').attr('stroke-width', 1.5);

// Axes
function cleanAxis(g) {
    g.select('.domain').remove();
    g.selectAll('.tick line').remove();
    g.selectAll('.tick text').attr('fill', greyText).attr('font-size', 12)
        .style('font-family', '"Lato", "Roboto", sans-serif');
}
function rightAxis(scale, ticks, fmt) {
    const g = svg.append('g').attr('transform', 'translate(1544,0)')
        .call(d3.axisRight(scale).tickValues(ticks).tickSize(0).tickFormat(fmt));
    cleanAxis(g);
    g.selectAll('.tick text').attr('x', 2);
}
rightAxis(y, priceTicks, d3.format('.2f'));
rightAxis(yRsi, rsiTicks, d3.format('.2f'));
rightAxis(yMacd, macdTicks, d => d3.format('.4f')(d).replace('-', '\u2212'));

const monthAxis = svg.append('g').attr('transform', 'translate(0,676)')
    .call(d3.axisBottom(x).tickValues(monthBars).tickSize(0)
        .tickFormat((d, i) => monthLabels[i]));
cleanAxis(monthAxis);

// USD button, it hides the top tick behind it
svg.append('rect').attr('x', 1540).attr('y', 40).attr('width', 50).attr('height', 10.5).attr('fill', '#fff');
svg.append('rect').attr('x', 1542.5).attr('y', 27).attr('width', 45).attr('height', 21).attr('rx', 3)
    .attr('fill', '#fff').attr('stroke', '#e9eaee');
svg.append('text').attr('x', 1551).attr('y', 42).attr('font-size', 12).attr('fill', '#131722').text('USD');

// Axis tags
function axisTag(cy, label, fill, color, w) {
    svg.append('rect').attr('x', plotRight).attr('y', cy - 7.3).attr('width', w).attr('height', 14.6).attr('fill', fill);
    svg.append('text').attr('x', plotRight + 7).attr('y', cy + 4.3)
        .attr('font-size', 12).attr('font-weight', 700).attr('fill', color).text(label);
}
function tagStack(tags, scale) {
    let prev = -100;
    tags.forEach(tag => {
        const cy = Math.max(scale(tag.v), prev + 14.7);
        axisTag(cy, tag.t, tag.fill, tag.color, tag.w || 37);
        prev = cy;
    });
}
axisTag(y(resistLevel), '29.33', '#4caf50', '#fff', 37);
axisTag(y(supportLevel), '20.69', '#4caf50', '#fff', 37);
tagStack(mainTags, y);
axisTag(399.5, '4.604M', '#ef5350', '#fff', 45);
tagStack(rsiTags, yRsi);
tagStack(macdTags, yMacd);

// Legends
function legend(yPos, parts) {
    parts.forEach(p => {
        svg.append('text').attr('class', 'legend').attr('x', p[0]).attr('y', yPos)
            .attr('font-size', 12).attr('fill', p[2]).text(p[1]);
    });
}
const redText = '#f7525f';
legend(39.5, [[16, 'Pinterest, Inc., 1D, NYSE', greyText], [138, 'O', greyText], [145, '27.82', redText],
    [177, 'H', greyText], [184, '28.06', redText], [216, 'L', greyText], [222, '27.62', redText],
    [253, 'C', greyText], [260, '27.65', redText], [292, '+0.16 (+0.58%)', redText]]);
legend(55, [[16, 'EMA 20/50/100/200', greyText], [116, '27.11', '#ff0000'], [148, '26.88', '#ff7f00'],
    [180, '26.38', '#00ffff'], [212, '26.10', '#0000ff']]);
legend(70, [[16, 'Vol', greyText], [36, '4.604M', redText]]);
legend(424.5, [[15, 'RSI (14, close, SMA, 14, 2)', greyText], [145, '55.42', '#7e57c2'], [177, '50.01', '#ffeb3b'],
    [210, '\u2205', '#c9cbd1'], [225, '\u2205', '#c9cbd1']]);
legend(556, [[15, 'MACD (12, 26, close, 9, EMA, EMA)', greyText], [184, '0.1195', '#26a69a'], [221, '0.0723', '#2962ff'],
    [259, '\u22120.0472', '#ff6d00']]);

// Header and logo
svg.append('text').attr('class', 'wide').attr('x', 9).attr('y', 17).attr('font-size', 12.5).attr('fill', '#d6d8de')
    .text('trader26798 published on TradingView.com, Sep 04, 2023 13:53 UTC+5:30');
const logo = svg.append('g').attr('transform', 'translate(8,704)').attr('fill', '#e6e7ea');
logo.append('path').attr('d', 'M0,0 H7 V9 H3 V3 H0 Z');
logo.append('circle').attr('cx', 10).attr('cy', 2).attr('r', 1.8);
logo.append('path').attr('d', 'M12,0 H18 L13,11 H8 Z');
svg.append('text').attr('x', 29).attr('y', 715).attr('font-size', 13).attr('font-weight', 600)
    .attr('fill', '#d6d8de').text('TradingView');

// The reference type is narrow, digits more than letters, so squeeze each text around its anchor
const numberLike = /^[\u2212+\-\d.,()%M ]+$/;
svg.selectAll('text').each(function() {
    const t = d3.select(this);
    const tx = +t.attr('x') || 0;
    let f = numberLike.test(t.text()) ? 0.84 : 0.93;
    if (t.classed('legend') && f > 0.9) f = 0.87;
    if (t.text().startsWith('EMA')) f = 0.78;
    if (t.classed('wide')) f = 0.84;
    t.attr('transform', `translate(${tx},0) scale(${f},1) translate(${-tx},0)`);
});
</script>
</body>
</html>
